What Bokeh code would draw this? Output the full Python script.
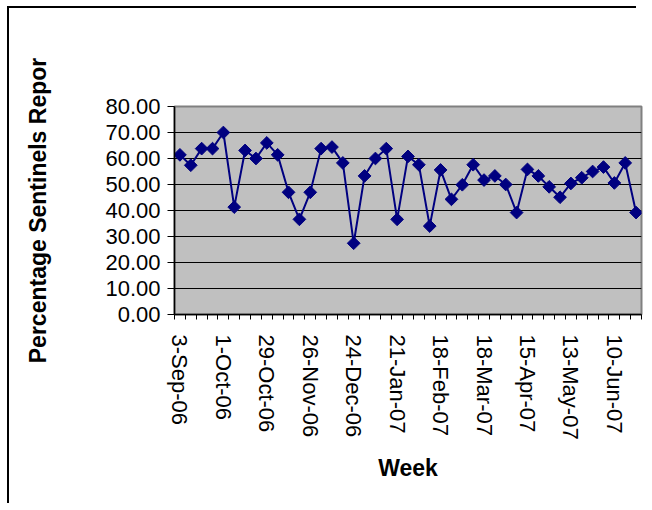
from bokeh.plotting import figure
from bokeh.models import FixedTicker, NumeralTickFormatter, Range1d
from bokeh.embed import file_html
from bokeh.resources import INLINE

weeks = ["3-Sep-06", "10-Sep-06", "17-Sep-06", "24-Sep-06", "1-Oct-06", "8-Oct-06", "15-Oct-06",
         "22-Oct-06", "29-Oct-06", "5-Nov-06", "12-Nov-06", "19-Nov-06", "26-Nov-06", "3-Dec-06",
         "10-Dec-06", "17-Dec-06", "24-Dec-06", "31-Dec-06", "7-Jan-07", "14-Jan-07", "21-Jan-07",
         "28-Jan-07", "4-Feb-07", "11-Feb-07", "18-Feb-07", "25-Feb-07", "4-Mar-07", "11-Mar-07",
         "18-Mar-07", "25-Mar-07", "1-Apr-07", "8-Apr-07", "15-Apr-07", "22-Apr-07", "29-Apr-07",
         "6-May-07", "13-May-07", "20-May-07", "27-May-07", "3-Jun-07", "10-Jun-07", "17-Jun-07",
         "24-Jun-07"]
percent = [61.4, 57.4, 63.8, 63.8, 70.0, 41.3, 63.1, 60.0, 66.0, 61.4,
           47.0, 36.6, 47.0, 63.8, 64.4, 58.3, 27.4, 53.3, 60.0, 63.8,
           36.6, 60.8, 57.6, 34.0, 55.6, 44.3, 49.9, 57.6, 51.7, 53.3,
           50.0, 39.2, 55.8, 53.3, 49.1, 45.1, 50.4, 52.6, 55.0, 56.7,
           50.6, 58.3, 39.2]
y_ticks = [0, 10, 20, 30, 40, 50, 60, 70, 80]
label_every = 4

x = list(range(len(weeks)))

p = figure(width=641, height=501, output_backend="svg", toolbar_location=None,
           x_range=Range1d(-0.5, len(weeks) - 0.5), y_range=Range1d(0, 80),
           min_border_left=165, min_border_right=9, min_border_top=98, min_border_bottom=195)
# chart-area border on the left and top only
p.styles = {"margin-left": "9px", "margin-top": "8px",
            "box-shadow": "-8px -8px 0px -6px black, -8px 0px 0px -6px black"}

p.background_fill_color = "#C0C0C0"
p.border_fill_color = "white"
p.outline_line_color = "#808080"
p.outline_line_width = 2

# grid
p.xgrid.visible = False
p.ygrid.ticker = FixedTicker(ticks=y_ticks[1:-1])
p.ygrid.grid_line_color = "black"
p.ygrid.grid_line_width = 1

font = "Liberation Sans"

# y axis
ya = p.yaxis[0]
ya.ticker = FixedTicker(ticks=y_ticks)
ya.formatter = NumeralTickFormatter(format="0.00")
ya.major_label_text_font = font
ya.major_label_text_font_size = "22px"
ya.major_label_text_color = "black"
ya.major_tick_out = 7
ya.major_tick_in = 0
ya.minor_tick_line_color = None
ya.major_label_standoff = 7
ya.axis_line_color = "black"
ya.axis_line_width = 1.5
ya.axis_label = "Percentage Sentinels Repor"
ya.axis_label_text_font = font
ya.axis_label_text_font_style = "bold"
ya.axis_label_text_font_size = "23px"
ya.axis_label_text_color = "black"
ya.axis_label_standoff = 51

# x axis
xa = p.xaxis[0]
major = list(range(0, len(weeks), label_every))
xa.ticker = FixedTicker(ticks=major, minor_ticks=[i - 0.5 for i in range(len(weeks) + 1)])
xa.major_label_overrides = {i: weeks[i] for i in major}
xa.major_label_orientation = "vertical"
xa.major_label_text_font = font
xa.major_label_text_font_size = "22px"
xa.major_label_text_color = "black"
xa.major_tick_line_color = None
xa.major_tick_out = 0
xa.major_tick_in = 0
xa.minor_tick_out = 5
xa.minor_tick_in = 0
xa.minor_tick_line_color = "black"
xa.major_label_standoff = 15
xa.axis_line_color = "black"
xa.axis_line_width = 1.5
xa.axis_label = "Week"
xa.axis_label_text_font = font
xa.axis_label_text_font_style = "bold"
xa.axis_label_text_font_size = "23px"
xa.axis_label_text_color = "black"
xa.axis_label_standoff = 12

p.line(x, percent, line_color="#000080", line_width=2)
p.scatter(x, percent, marker="square", size=9, angle=0.785398,
          fill_color="#000080", line_color="#000080")

open("out.html", "w").write(file_html(p, INLINE))
